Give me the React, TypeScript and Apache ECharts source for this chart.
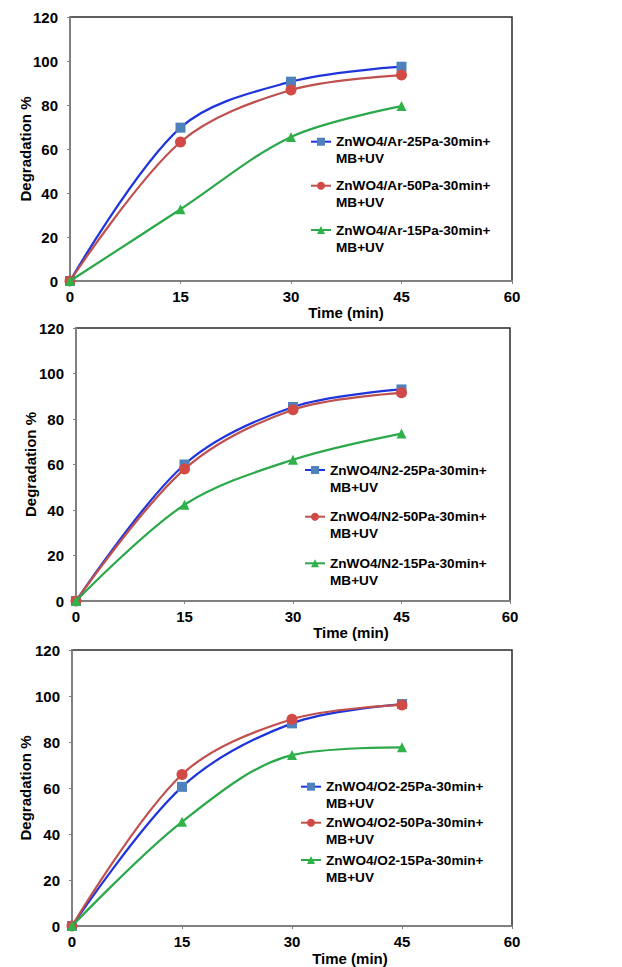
import React, { useEffect, useRef } from "react";
import * as echarts from "echarts";

const times = [0, 15, 30, 45];
const xTicks = [0, 15, 30, 45, 60];
const yTicks = [0, 20, 40, 60, 80, 100, 120];

const arNames = ["ZnWO4/Ar-25Pa-30min+ MB+UV", "ZnWO4/Ar-50Pa-30min+ MB+UV", "ZnWO4/Ar-15Pa-30min+ MB+UV"];
const arBlue = [0, 69.7, 90.6, 97.4];
const arRed = [0, 63.2, 86.8, 93.6];
const arGreen = [0, 32.6, 65.5, 79.5];

const n2Names = ["ZnWO4/N2-25Pa-30min+ MB+UV", "ZnWO4/N2-50Pa-30min+ MB+UV", "ZnWO4/N2-15Pa-30min+ MB+UV"];
const n2Blue = [0, 60, 85.3, 93];
const n2Red = [0, 58, 84.1, 91.5];
const n2Green = [0, 42.3, 62.1, 73.6];

const o2Names = ["ZnWO4/O2-25Pa-30min+ MB+UV", "ZnWO4/O2-50Pa-30min+ MB+UV", "ZnWO4/O2-15Pa-30min+ MB+UV"];
const o2Blue = [0, 60.5, 88.1, 96.5];
const o2Red = [0, 65.9, 89.9, 96.1];
const o2Green = [0, 45.3, 74.3, 77.7];

const FONT = "'Liberation Sans', Arial, sans-serif";

const panels = [
  { names: arNames, values: [arBlue, arRed, arGreen], grid: { left: 70, top: 17, width: 442, height: 264 }, nameGap: 37, xPad: 110, xGap: 24, legend: { left: 310, rows: [141.7, 185.7, 230] } },
  { names: n2Names, values: [n2Blue, n2Red, n2Green], grid: { left: 76, top: 328, width: 434, height: 273 }, nameGap: 38, xPad: 116, xGap: 24, legend: { left: 304, rows: [470, 516.7, 563.3] } },
  { names: o2Names, values: [o2Blue, o2Red, o2Green], grid: { left: 72, top: 650, width: 440, height: 276 }, nameGap: 39, xPad: 116, xGap: 25, legend: { left: 300, rows: [786.7, 822.7, 860] } },
];

const lineColors = ["#1f35dc", "#c0504d", "#2aa84a"];
const markColors = ["#4f81bd", "#d24a45", "#2fb24a"];
const symbols = ["rect", "circle", "triangle"];
const symbolSizes = [10, 11, 10];

const LH = 17;

export default function App() {
  const ref = useRef<HTMLDivElement>(null);
  useEffect(() => {
    if (!ref.current) return;
    const chart = echarts.init(ref.current, undefined, { renderer: "svg" });
    const grids: any[] = [];
    const xAxes: any[] = [];
    const yAxes: any[] = [];
    const series: any[] = [];
    const legends: any[] = [];
    panels.forEach((p, gi) => {
      grids.push({ ...p.grid, show: true, borderColor: "#2a2a2a", borderWidth: 1.5, backgroundColor: "transparent" });
      xAxes.push({
        type: "value", gridIndex: gi, min: xTicks[0], max: xTicks[xTicks.length - 1], interval: 15,
        name: "Time (min)", nameLocation: "middle", nameGap: p.xGap, nameMoveOverlap: false,
        nameTextStyle: { fontFamily: FONT, fontWeight: "bold", fontSize: 15, color: "#000", padding: [0, 0, 0, p.xPad] },
        axisLine: { show: true, lineStyle: { color: "#808080", width: 2 } },
        axisTick: { show: true, length: 3, lineStyle: { color: "#808080" } },
        axisLabel: { fontFamily: FONT, fontWeight: "bold", fontSize: 15, color: "#000", margin: 8 },
        splitLine: { show: false },
      });
      yAxes.push({
        type: "value", gridIndex: gi, min: yTicks[0], max: yTicks[yTicks.length - 1], interval: 20,
        name: "Degradation %", nameLocation: "middle", nameGap: p.nameGap, nameMoveOverlap: false,
        nameTextStyle: { fontFamily: FONT, fontWeight: "bold", fontSize: 15, color: "#000" },
        axisLine: { show: true, lineStyle: { color: "#808080", width: 2 } },
        axisTick: { show: true, length: 3, lineStyle: { color: "#808080" } },
        axisLabel: { fontFamily: FONT, fontWeight: "bold", fontSize: 15, color: "#000", margin: 12 },
        splitLine: { show: false },
      });
      p.names.forEach((name, si) => {
        series.push({
          type: "line", name, xAxisIndex: gi, yAxisIndex: gi,
          data: times.map((t, i) => [t, p.values[si][i]]),
          smooth: 0.33,
          symbol: symbols[si], symbolSize: symbolSizes[si],
          lineStyle: { color: lineColors[si], width: 2.2 },
          itemStyle: { color: markColors[si] },
          z: 2 + si,
        });
        legends.push({
          data: [name], left: p.legend.left, top: p.legend.rows[si] - 1.5 * LH,
          orient: "vertical", padding: 0, itemWidth: 20, itemHeight: 10, selectedMode: false,
          formatter: (n: string) => "\n" + n.replace(" MB+UV", "\nMB+UV"),
          textStyle: { fontFamily: FONT, fontWeight: "bold", fontSize: 13.6, color: "#000", lineHeight: LH },
        });
      });
    });
    chart.setOption({
      animation: false,
      backgroundColor: "#fff",
      grid: grids, xAxis: xAxes, yAxis: yAxes, series, legend: legends,
    });
    return () => chart.dispose();
  }, []);
  return <div ref={ref} style={{ position: "fixed", left: 0, top: 0, width: 622, height: 967 }} />;
}
